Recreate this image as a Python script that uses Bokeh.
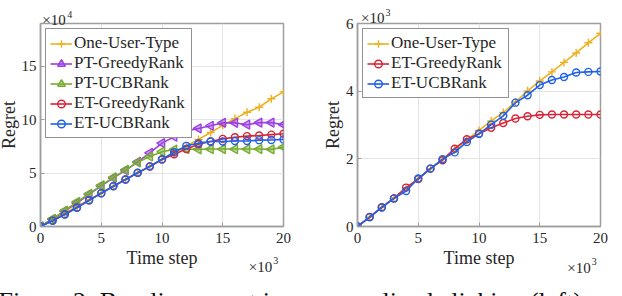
import math
from bokeh.plotting import figure
from bokeh.models import Label, FixedTicker
from bokeh.layouts import row
from bokeh.embed import file_html
from bokeh.resources import INLINE

# ---------------- data (time step in units of 10^3) ----------------
steps = list(range(0, 21))

# left panel, regret in units of 10^4
left_one_user = [0, 0.62, 1.25, 1.88, 2.5, 3.13, 3.76, 4.39, 5.02, 5.65, 6.28,
                 6.9, 7.53, 8.15, 8.8, 9.47, 10.1, 10.7, 11.16, 11.95, 12.6]
left_pt_greedy = [0, 0.7, 1.45, 2.2, 3.0, 3.8, 4.55, 5.25, 6.05, 6.9, 7.8,
                  8.4, 8.95, 9.18, 9.43, 9.7, 9.7, 9.53, 9.72, 9.72, 9.53]
left_pt_ucb = [0, 0.72, 1.48, 2.3, 3.05, 3.85, 4.6, 5.3, 6.0, 6.55, 7.0,
               7.2, 7.25, 7.22, 7.25, 7.25, 7.25, 7.25, 7.25, 7.22, 7.43]
left_et_greedy = [0, 0.55, 1.15, 1.78, 2.45, 3.12, 3.78, 4.4, 5.02, 5.62, 6.27,
                  6.76, 7.26, 7.7, 7.96, 8.2, 8.36, 8.46, 8.52, 8.6, 8.68]
left_et_ucb = [0, 0.53, 1.13, 1.76, 2.45, 3.11, 3.77, 4.4, 5.03, 5.63, 6.29,
               6.95, 7.55, 7.8, 7.96, 7.96, 8.0, 8.0, 8.08, 8.1, 8.15]

# right panel, regret in units of 10^3
right_one_user = [0, 0.28, 0.57, 0.85, 1.13, 1.42, 1.70, 1.99, 2.27, 2.56, 2.84,
                  3.12, 3.37, 3.68, 4.01, 4.3, 4.57, 4.85, 5.13, 5.43, 5.71]
right_et_greedy = [0, 0.28, 0.57, 0.83, 1.15, 1.40, 1.71, 1.96, 2.3, 2.58, 2.74,
                   2.92, 3.06, 3.19, 3.26, 3.3, 3.31, 3.31, 3.31, 3.31, 3.31]
right_et_ucb = [0, 0.276, 0.56, 0.83, 1.05, 1.42, 1.71, 1.99, 2.19, 2.5, 2.74,
                3.01, 3.27, 3.66, 3.88, 4.18, 4.33, 4.42, 4.55, 4.57, 4.58]

x_ticks = [0, 5, 10, 15, 20]
left_y_ticks = [0, 5, 10, 15]
right_y_ticks = [0, 2, 4, 6]
left_y_max = 19
right_y_max = 6

x_label = "Time step"
y_label = "Regret"
caption_left = "Figure 2: Baseline regret in"
caption_right = "normalized clicking (left) and"

ORANGE = "#EDB120"
PURPLE = "#9C3FE3"
GREEN = "#77AC30"
RED = "#D62537"
BLUE = "#1F61E8"

FONT = "Liberation Serif"
TXT = "#262626"
AXC = "#9e9e9e"


def make_fig(ymax, yticks, border_left, border_right):
    p = figure(frame_width=243, frame_height=203,
               x_range=(0, 20), y_range=(0, ymax),
               output_backend="svg", toolbar_location=None,
               min_border_left=border_left, min_border_right=border_right,
               min_border_top=22, min_border_bottom=71)
    p.xaxis.ticker = FixedTicker(ticks=x_ticks)
    p.yaxis.ticker = FixedTicker(ticks=yticks)
    for ax in (p.xaxis, p.yaxis):
        ax.major_label_text_font = FONT
        ax.major_label_text_font_size = "15px"
        ax.major_label_text_color = TXT
        ax.axis_label_text_font = FONT
        ax.axis_label_text_font_size = "18px"
        ax.axis_label_text_font_style = "normal"
        ax.axis_label_text_color = TXT
        ax.axis_line_color = AXC
        ax.axis_line_width = 1.5
        ax.major_tick_line_color = AXC
        ax.major_tick_in = 4
        ax.major_tick_out = 0
        ax.minor_tick_line_color = None
    p.xaxis.axis_label = x_label
    p.yaxis.axis_label = y_label
    p.xaxis.major_label_standoff = 6
    p.xaxis.axis_label_standoff = 2
    p.yaxis.major_label_standoff = 4
    p.yaxis.axis_label_standoff = 0
    p.grid.grid_line_color = "#e4e4e4"
    p.grid.grid_line_width = 1
    p.outline_line_color = AXC
    p.outline_line_width = 1.5
    p.background_fill_color = "white"
    p.border_fill_color = "white"
    return p


def add_series(p, ys, color, marker, label, size, angle=0.0, fill_alpha=0.0):
    p.line(steps, ys, line_color=color, line_width=1.6, legend_label=label)
    p.scatter(steps, ys, marker=marker, size=size, angle=angle,
              line_color=color, line_width=1.4, fill_color=color,
              fill_alpha=fill_alpha, legend_label=label)


def style_legend(p):
    lg = p.legend[0]
    lg.location = "top_left"
    lg.margin = 5
    lg.padding = 4
    lg.spacing = 0
    lg.label_text_font = FONT
    lg.label_text_font_size = "17px"
    lg.label_text_color = TXT
    lg.glyph_width = 22
    lg.glyph_height = 19
    lg.label_height = 19
    lg.label_width = 113
    lg.label_standoff = 2
    lg.border_line_color = "#262626"
    lg.border_line_width = 1
    lg.background_fill_color = "white"
    lg.background_fill_alpha = 1.0


def add_exp(p, side, x, y, xs, ys, exp):
    # placed in a side panel so that the text is not clipped to the frame
    p.add_layout(Label(x=x, y=y, text="×10", text_font=FONT,
                       text_font_size="15px", text_color=TXT,
                       text_baseline="alphabetic"), side)
    p.add_layout(Label(x=xs, y=ys, text=exp, text_font=FONT,
                       text_font_size="10px", text_color=TXT,
                       text_baseline="alphabetic"), side)


def add_caption(p, x, y, text):
    p.add_layout(Label(x=x, y=y, text=text, text_font=FONT,
                       text_font_size="26px", text_color="#111111",
                       text_baseline="alphabetic"), "below")


# ---------------- left panel ----------------
p1 = make_fig(left_y_max, left_y_ticks, 41, 30)
add_series(p1, left_one_user, ORANGE, "cross", "One-User-Type", 8)
add_series(p1, left_pt_greedy, PURPLE, "triangle", "PT-GreedyRank", 9,
           angle=math.pi / 2, fill_alpha=0.45)
add_series(p1, left_pt_ucb, GREEN, "triangle", "PT-UCBRank", 9,
           angle=math.pi / 2, fill_alpha=0.45)
add_series(p1, left_et_greedy, RED, "circle", "ET-GreedyRank", 7)
add_series(p1, left_et_ucb, BLUE, "circle", "ET-UCBRank", 7)
style_legend(p1)
add_exp(p1, "above", 0.15, 19.37, 2.2, 19.85, "4")
add_exp(p1, "below", 17.14, -3.75, 19.16, -3.19, "3")
add_caption(p1, -3.45, -7.05, caption_left)

# ---------------- right panel ----------------
p2 = make_fig(right_y_max, right_y_ticks, 44, 17)
add_series(p2, right_one_user, ORANGE, "cross", "One-User-Type", 8)
add_series(p2, right_et_greedy, RED, "circle", "ET-GreedyRank", 7)
add_series(p2, right_et_ucb, BLUE, "circle", "ET-UCBRank", 7)
style_legend(p2)
add_exp(p2, "above", 0.29, 6.15, 2.3, 6.32, "3")
add_exp(p2, "below", 17.27, -1.226, 19.29, -1.046, "3")
add_caption(p2, -3.4, -2.22, caption_right)

layout = row(p1, p2, margin=(0, 0, 0, -5))

with open("out.html", "w") as f:
    f.write(file_html(layout, INLINE))
